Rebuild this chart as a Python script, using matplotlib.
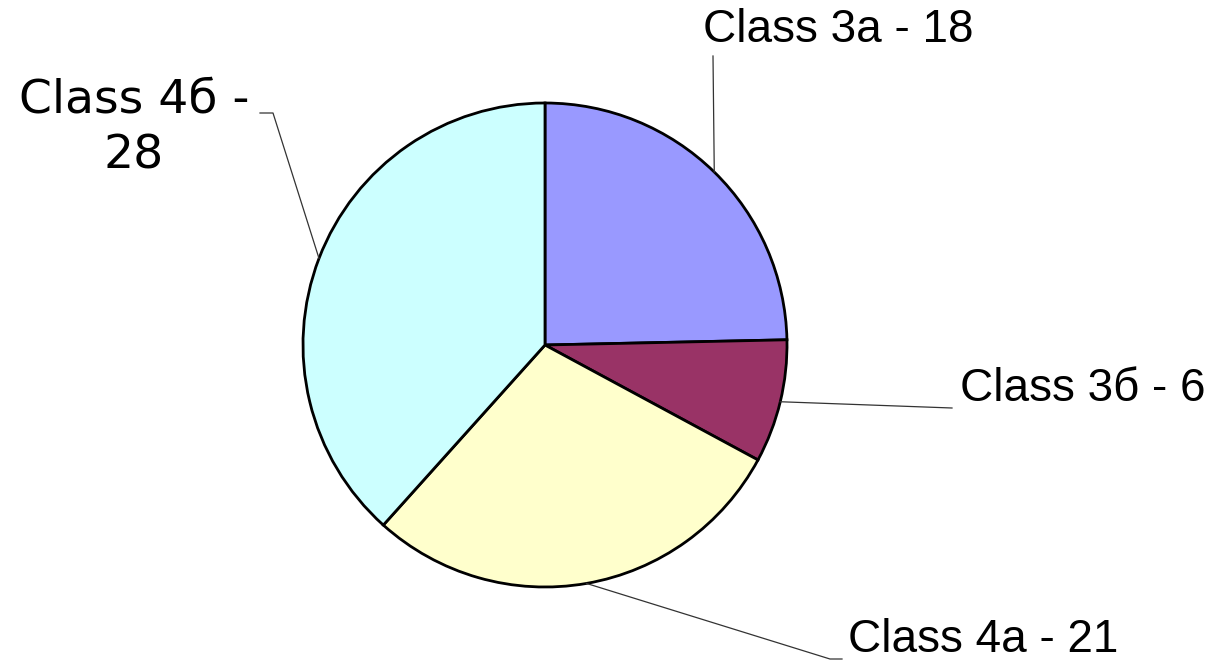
import numpy as np
import matplotlib
matplotlib.use("Agg")
import matplotlib.pyplot as plt

# pie data
classes = ["Class 3a", "Class 3б", "Class 4a", "Class 4б"]
counts = [18, 6, 21, 28]
colors = ["#9999FF", "#993366", "#FFFFCC", "#CCFFFF"]

W, H = 1218, 668
fig = plt.figure(figsize=(W / 100, H / 100), dpi=100)
ax = fig.add_axes([0, 0, 1, 1])
ax.set_aspect("equal")
ax.axis("off")

cx, cy, r = 545, H - 345, 242
wedges, _ = ax.pie(counts, colors=colors, startangle=90, counterclock=False,
                   center=(cx, cy), radius=r,
                   wedgeprops=dict(edgecolor="black", linewidth=2.0))
ax.set_xlim(0, W)
ax.set_ylim(0, H)

# label layout: (leader path after anchor, text pos, font family, size, format)
layout = [
    ([(713, 56)], (838, 30), "Liberation Sans", 33, "{} - {}"),
    ([(952, 408)], (1083, 389), "Liberation Sans", 33, "{} - {}"),
    ([(830, 659), (842, 659)], (983, 640), "Liberation Sans", 33, "{} - {}"),
    ([(273, 113), (260, 113)], (134, 128), "DejaVu Sans", 34, "{} -\n{}"),
]

for w, name, n, (path, tpos, fam, fs, fmt) in zip(wedges, classes, counts, layout):
    mid = np.deg2rad((w.theta1 + w.theta2) / 2)
    anchor = (cx + r * np.cos(mid), cy + r * np.sin(mid))
    xs = [anchor[0]] + [p[0] for p in path]
    ys = [anchor[1]] + [H - p[1] for p in path]
    ax.plot(xs, ys, color="#333333", linewidth=0.9)
    ax.text(tpos[0], H - tpos[1], fmt.format(name, n), ha="center", va="center",
            fontsize=fs, family=fam, color="black", linespacing=1.3)

fig.savefig("out.png", dpi=100, facecolor="white")
